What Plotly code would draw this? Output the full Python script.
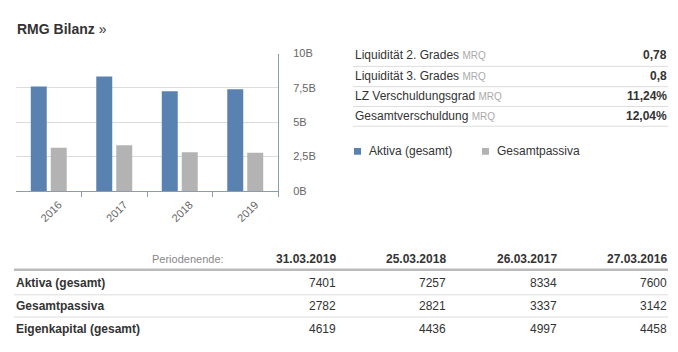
import plotly.graph_objects as go

W, H = 678, 352

years = ["2016", "2017", "2018", "2019"]
aktiva = [7600, 8334, 7257, 7401]
passiva = [3142, 3337, 2821, 2782]

ytick_vals = [0, 2500, 5000, 7500, 10000]
ytick_text = ["0B", "2,5B", "5B", "7,5B", "10B"]

ratio_labels = ["Liquidität 2. Grades", "Liquidität 3. Grades", "LZ Verschuldungsgrad", "Gesamtverschuldung"]
ratio_values = ["0,78", "0,8", "11,24%", "12,04%"]

period_dates = ["31.03.2019", "25.03.2018", "26.03.2017", "27.03.2016"]
row_labels = ["Aktiva (gesamt)", "Gesamtpassiva", "Eigenkapital (gesamt)"]
row_values = [
    [7401, 7257, 8334, 7600],
    [2782, 2821, 3337, 3142],
    [4619, 4436, 4997, 4458],
]

series_names = ["Aktiva (gesamt)", "Gesamtpassiva"]

BLUE = "#5a82b0"
GREY = "#b3b3b3"
AXIS = "#8a9bb2"
FONT = "Liberation Sans, Arial, sans-serif"

def px(x):
    return x / W

def py(y):
    return 1 - y / H

fig = go.Figure()
fig.add_trace(go.Bar(x=years, y=aktiva, name=series_names[0], marker_color=BLUE, marker_line_width=0))
fig.add_trace(go.Bar(x=years, y=passiva, name=series_names[1], marker_color=GREY, marker_line_width=0))
fig.add_trace(go.Scatter(x=[], y=[], xaxis="x2", yaxis="y", showlegend=False, hoverinfo="skip"))

ann = []
shapes = []

# title
ann.append(dict(x=px(15), y=py(23.5), xref="paper", yref="paper", xanchor="left", yanchor="middle",
                text="<b>RMG Bilanz</b> »", showarrow=False, font=dict(size=14, color="#333", family=FONT)))

# right ratio panel
row_y = [51, 72.5, 93.5, 114]
line_y = [62.5, 83.5, 104, 124.5]
for lab, val, yy, ly in zip(ratio_labels, ratio_values, row_y, line_y):
    ann.append(dict(x=px(353), y=py(yy), xref="paper", yref="paper", xanchor="left", yanchor="middle",
                    text=lab + " <span style='font-size:10px;color:#aaaaaa'>MRQ</span>", showarrow=False,
                    font=dict(size=12, color="#333", family=FONT)))
    ann.append(dict(x=px(669), y=py(yy), xref="paper", yref="paper", xanchor="right", yanchor="middle",
                    text="<b>" + val + "</b>", showarrow=False, font=dict(size=12, color="#333", family=FONT)))
    shapes.append(dict(type="line", xref="paper", yref="paper", x0=px(353), x1=px(668), y0=py(ly), y1=py(ly),
                       line=dict(color="#dddddd", width=1)))

# legend (swatches + labels)
leg_x = [354, 482]
for name, col, lx in zip(series_names, [BLUE, GREY], leg_x):
    shapes.append(dict(type="rect", xref="paper", yref="paper", x0=px(lx), x1=px(lx + 7), y0=py(154), y1=py(147),
                       fillcolor=col, line=dict(width=0)))
    ann.append(dict(x=px(lx + 13), y=py(150.5), xref="paper", yref="paper", xanchor="left", yanchor="middle",
                    text=name, showarrow=False, font=dict(size=12, color="#333", family=FONT)))

# bottom table
col_x = [337, 447, 558, 668]
ann.append(dict(x=px(226), y=py(262), xref="paper", yref="paper", xanchor="right", yanchor="middle",
                text="Periodenende:", showarrow=False, font=dict(size=11, color="#888", family=FONT)))
for d, cx in zip(period_dates, col_x):
    ann.append(dict(x=px(cx + 1), y=py(262), xref="paper", yref="paper", xanchor="right", yanchor="middle",
                    text="<b>" + d + "</b>", showarrow=False, font=dict(size=12, color="#333", family=FONT)))
shapes.append(dict(type="line", xref="paper", yref="paper", x0=px(14), x1=px(668), y0=py(273), y1=py(273),
                   line=dict(color="#bbbbbb", width=2.5)))
trow_y = [287, 311, 334]
tline_y = [299, 322]
for i, (lab, vals, yy) in enumerate(zip(row_labels, row_values, trow_y)):
    ann.append(dict(x=px(14), y=py(yy), xref="paper", yref="paper", xanchor="left", yanchor="middle",
                    text="<b>" + lab + "</b>", showarrow=False, font=dict(size=12, color="#333", family=FONT)))
    for v, cx in zip(vals, col_x):
        ann.append(dict(x=px(cx + 1), y=py(yy), xref="paper", yref="paper", xanchor="right", yanchor="middle",
                        text=str(v), showarrow=False, font=dict(size=12, color="#333", family=FONT)))
for ly in tline_y:
    shapes.append(dict(type="line", xref="paper", yref="paper", x0=px(14), x1=px(668), y0=py(ly), y1=py(ly),
                       line=dict(color="#dddddd", width=1)))

xdom = [px(16), px(278)]
fig.update_layout(
    width=W, height=H,
    margin=dict(l=0, r=0, t=0, b=0),
    paper_bgcolor="white", plot_bgcolor="white",
    barmode="group", bargap=0.39, bargroupgap=0.2,
    font=dict(family=FONT, size=12, color="#333"),
    showlegend=False,
    xaxis=dict(domain=xdom, type="category", showline=True, linecolor=AXIS, linewidth=1,
               ticks="", tickangle=-45, ticklabelshift=10, ticklabelstandoff=2,
               tickfont=dict(size=11, color="#666", family=FONT), showgrid=False, fixedrange=True),
    xaxis2=dict(domain=xdom, overlaying="x", anchor="y", side="bottom", range=[-0.5, 3.5],
                tickvals=[0.5, 1.5, 2.5, 3.5], showticklabels=False, ticks="outside", ticklen=5,
                tickcolor=AXIS, showgrid=False, showline=False, zeroline=False, fixedrange=True),
    yaxis=dict(domain=[py(191.5), py(49.3)], range=[0, 10000], side="right", showline=True, linecolor=AXIS,
               tickvals=ytick_vals, ticktext=ytick_text, tickfont=dict(size=11, color="#666", family=FONT),
               showgrid=True, gridcolor="#dcdcdc", zeroline=False, ticks="", ticklabelstandoff=12,
               fixedrange=True),
    annotations=ann, shapes=shapes,
)

fig.write_html("out.html")
